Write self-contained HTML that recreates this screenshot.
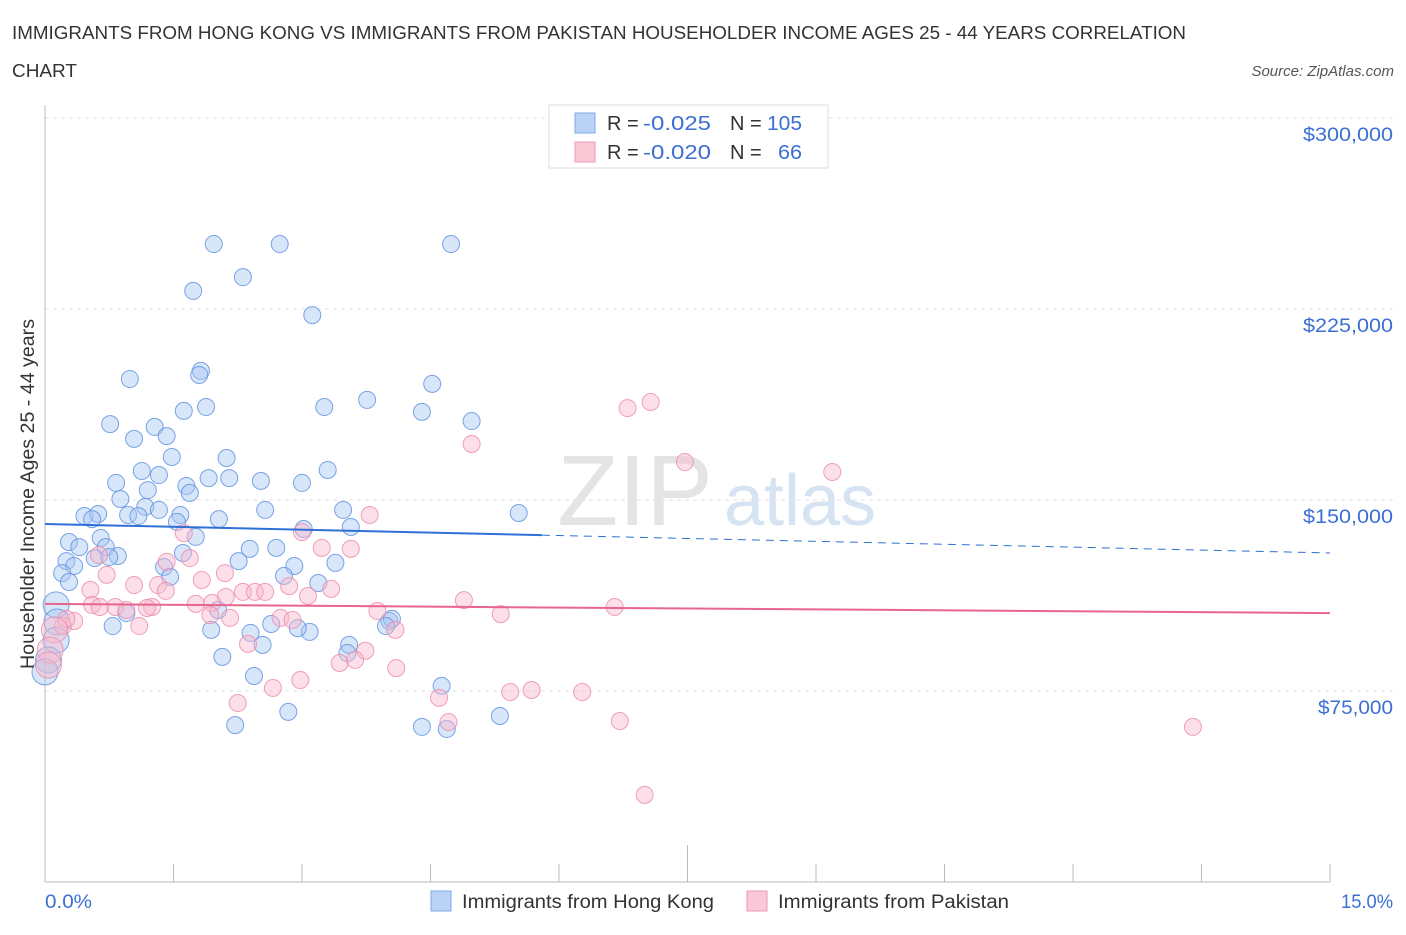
<!DOCTYPE html>
<html><head><meta charset="utf-8">
<style>
body{margin:0;background:#fff;font-family:"Liberation Sans",sans-serif;}
svg text{font-family:"Liberation Sans",sans-serif;}
</style></head>
<body>
<svg id="chart" width="1406" height="930" viewBox="0 0 1406 930" xmlns="http://www.w3.org/2000/svg">
<text x="12" y="39" font-size="18" fill="#333" textLength="1174" lengthAdjust="spacingAndGlyphs">IMMIGRANTS FROM HONG KONG VS IMMIGRANTS FROM PAKISTAN HOUSEHOLDER INCOME AGES 25 - 44 YEARS CORRELATION</text>
<text x="12" y="77" font-size="18" fill="#333" textLength="65" lengthAdjust="spacingAndGlyphs">CHART</text>
<text x="1394" y="76" font-size="15" fill="#555" font-style="italic" text-anchor="end">Source: ZipAtlas.com</text>
<g>
<text x="635" y="525" font-size="100" fill="#e4e4e4" font-family="Liberation Serif" text-anchor="middle">ZIP</text>
<text x="800" y="525" font-size="72" fill="#d6e3f3" text-anchor="middle">atlas</text>
</g>
<g id="grid"></g>
<g id="axes"></g>
<g id="pts"></g>
<g id="trend"></g>
<text transform="translate(34,494) rotate(-90)" font-size="19" fill="#333" text-anchor="middle" textLength="350" lengthAdjust="spacingAndGlyphs">Householder Income Ages 25 - 44 years</text>
<text x="45" y="908" font-size="19" fill="#3b6fd4" textLength="47" lengthAdjust="spacingAndGlyphs">0.0%</text>
<text x="1341" y="908" font-size="19" fill="#3b6fd4" textLength="52" lengthAdjust="spacingAndGlyphs">15.0%</text>
<g>
<rect x="549" y="105" width="279" height="63" fill="#fff" stroke="#ddd"/>
<rect x="575" y="113" width="20" height="20" fill="#b9d3f6" stroke="#7fa8e6"/>
<rect x="575" y="142" width="20" height="20" fill="#fbc8d8" stroke="#ee9ab5"/>
<text y="130" font-size="20" fill="#333"><tspan x="607">R =</tspan><tspan x="643" fill="#3b6fd4" textLength="68" lengthAdjust="spacingAndGlyphs">-0.025</tspan><tspan x="730">N =</tspan><tspan x="767" fill="#3b6fd4" textLength="35" lengthAdjust="spacingAndGlyphs">105</tspan></text>
<text y="159" font-size="20" fill="#333"><tspan x="607">R =</tspan><tspan x="643" fill="#3b6fd4" textLength="68" lengthAdjust="spacingAndGlyphs">-0.020</tspan><tspan x="730">N =</tspan><tspan x="778" fill="#3b6fd4" textLength="24" lengthAdjust="spacingAndGlyphs">66</tspan></text>
</g>
<g>
<rect x="431" y="891" width="20" height="20" fill="#b9d3f6" stroke="#7fa8e6"/>
<text x="462" y="908" font-size="19" fill="#333" textLength="252" lengthAdjust="spacingAndGlyphs">Immigrants from Hong Kong</text>
<rect x="747" y="891" width="20" height="20" fill="#fbc8d8" stroke="#ee9ab5"/>
<text x="778" y="908" font-size="19" fill="#333" textLength="231" lengthAdjust="spacingAndGlyphs">Immigrants from Pakistan</text>
</g>
</svg>
<script>
const yTicks=[75000,150000,225000,300000];
const yTickLabels=["$75,000","$150,000","$225,000","$300,000"];
const xTicks=[0,1.5,3,4.5,6,7.5,9,10.5,12,13.5,15];
const blueX=[1.97,2.74,4.74,2.31,1.73,3.12,0.99,1.82,1.80,4.52,1.88,1.62,3.26,3.76,4.40,4.98,0.76,1.28,1.42,1.04,1.48,2.12,3.30,1.13,2.15,1.33,1.91,2.52,0.83,1.65,3.00,1.20,1.69,0.88,1.17,1.33,2.57,3.48,5.53,0.46,0.62,0.97,1.09,0.55,1.58,2.03,1.54,3.02,3.57,1.76,0.28,0.65,0.40,0.71,2.39,2.70,0.85,0.58,0.75,0.25,1.61,2.26,0.34,1.39,0.20,1.46,0.28,2.91,2.79,3.19,3.39,0.13,0.95,2.02,2.64,4.02,4.05,0.14,3.09,2.95,2.40,1.94,2.54,3.55,2.07,3.53,3.98,2.44,4.63,2.84,2.22,4.40,4.69,5.31,0.13,0.04,0.0,0.79];
const blueY=[250.5,250.5,250.5,237.5,232.1,222.6,197.5,200.7,199.1,195.6,186.5,185.0,186.5,189.3,184.6,181.0,179.8,178.7,175.1,174.0,166.9,166.5,161.8,161.4,158.6,159.8,158.6,157.5,156.7,155.5,156.7,153.9,152.8,150.4,147.3,146.1,146.1,146.1,144.9,143.7,144.5,144.1,143.7,142.5,144.1,142.5,141.4,138.6,139.4,135.5,133.5,135.1,131.5,131.5,130.8,131.2,128.0,127.2,127.6,126.0,129.2,126.0,124.1,123.7,121.3,119.8,117.8,124.1,120.2,117.4,125.3,108.8,105.6,106.8,101.3,102.5,103.3,102.1,98.2,99.7,97.8,99.0,93.1,93.1,88.4,89.9,100.5,80.9,77.0,66.8,61.6,60.9,60.1,65.2,95.0,87.2,82.5,100.5];
const pinkX=[6.80,7.07,4.98,7.47,9.19,3.79,0.63,1.62,3.00,3.23,3.57,1.69,1.42,0.72,1.32,1.04,2.10,1.83,1.41,0.53,3.34,2.85,2.31,2.45,2.57,3.07,2.11,1.76,1.95,0.55,0.82,0.64,1.25,1.19,0.95,4.89,5.32,6.65,3.88,2.75,2.89,1.93,2.16,0.34,0.21,0.25,1.10,4.09,2.37,3.74,3.44,3.62,4.10,0.11,0.06,0.04,2.25,2.66,2.98,4.60,4.71,5.43,5.68,6.27,6.71,7.00,13.40];
const pinkY=[186.1,188.5,172.0,164.9,161.0,144.1,128.4,137.0,137.4,131.2,130.8,127.2,125.7,120.6,116.6,116.6,121.3,118.6,114.3,114.7,115.1,116.2,113.9,113.9,113.9,112.3,111.9,109.2,109.6,108.8,108.0,108.0,108.0,107.6,106.8,110.7,105.2,108.0,106.4,103.7,102.9,104.8,103.7,102.5,100.5,103.3,100.5,99.0,93.5,90.8,86.0,87.2,84.0,99.0,91.1,85.2,70.3,76.2,79.3,72.3,62.8,74.6,75.4,74.6,63.2,34.2,60.9];
const blueTrend=[140.6,129.2];
const pinkTrend=[109.2,105.6];
const NS="http://www.w3.org/2000/svg";
function xs(p){return 45+p/15*1285;}
function ys(v){return 691-(v-75000)/75000*191;}
function mk(t,a,p){const e=document.createElementNS(NS,t);for(const k in a)e.setAttribute(k,a[k]);p.appendChild(e);return e;}
const grid=document.getElementById('grid'),axes=document.getElementById('axes'),pts=document.getElementById('pts'),tr=document.getElementById('trend');
yTicks.forEach((v,i)=>{
 const l=mk('line',{x1:45,x2:1394,y1:ys(v),y2:ys(v),stroke:'#e2e2e2','stroke-dasharray':'4,4'},grid);
 
 
 const w=yTickLabels[i].length>7?90:75;
 const t=mk('text',{x:1393-w,y:ys(v)+23,'font-size':19,fill:'#3b6fd4',textLength:w,lengthAdjust:'spacingAndGlyphs'},grid);
 t.textContent=yTickLabels[i];
 
 
});
const ax=mk('line',{x1:45,x2:1330,y1:882,y2:882,stroke:'#bbb'},axes);


const ay=mk('line',{x1:45,x2:45,y1:105,y2:882,stroke:'#bbb'},axes);


xTicks.forEach((p,i)=>{
 const t=mk('line',{x1:xs(p),x2:xs(p),y1:(i==5?845:864),y2:882,stroke:'#bbb'},axes);
 
 
});
function dots(X,Y,fill,stroke,name){
 X.forEach((x,i)=>{
  const r=x<0.15?13:8.5;
  const c=mk('circle',{cx:xs(x),cy:ys(Y[i]*1000),r:r,fill:fill,'fill-opacity':0.45,stroke:stroke,'stroke-opacity':0.8,'stroke-width':1},pts);
  
  
 });
}
dots(blueX,blueY,'#a9c8f2','#5b8fe0','point-hong-kong');
dots(pinkX,pinkY,'#f8b9cc','#ec8aa9','point-pakistan');
function ty(t,p){return t[0]+(t[1]-t[0])*p/15;}
const b1=mk('line',{x1:xs(0),y1:ys(ty(blueTrend,0)*1000),x2:xs(5.8),y2:ys(ty(blueTrend,5.8)*1000),stroke:'#2f6fd6','stroke-width':2},tr);


const b2=mk('line',{x1:xs(5.8),y1:ys(ty(blueTrend,5.8)*1000),x2:xs(15),y2:ys(ty(blueTrend,15)*1000),stroke:'#2f6fd6','stroke-width':1,'stroke-dasharray':'8,6'},tr);


const p1=mk('line',{x1:xs(0),y1:ys(pinkTrend[0]*1000),x2:xs(15),y2:ys(pinkTrend[1]*1000),stroke:'#e8658f','stroke-width':2},tr);


</script>
</body></html>
